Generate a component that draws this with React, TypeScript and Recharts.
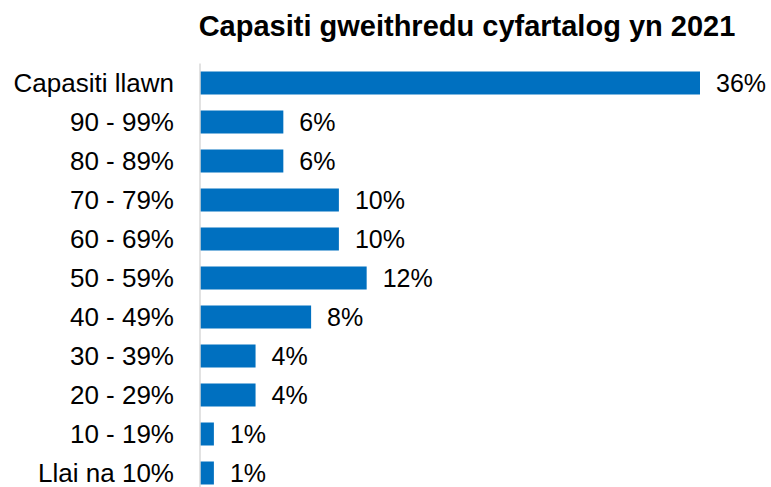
import React from 'react';
import { BarChart, Bar, XAxis, YAxis, LabelList } from 'recharts';

const title = 'Capasiti gweithredu cyfartalog yn 2021';
const categories = ['Capasiti llawn', '90 - 99%', '80 - 89%', '70 - 79%', '60 - 69%', '50 - 59%', '40 - 49%', '30 - 39%', '20 - 29%', '10 - 19%', 'Llai na 10%'];
const values = [36, 6, 6, 10, 10, 12, 8, 4, 4, 1, 1];

const data = categories.map((name, i) => ({ name, value: values[i] }));

const FONT = '"Liberation Sans", Arial, sans-serif';

export default function App() {
  return (
    <div style={{ position: 'absolute', left: 0, top: 0, width: 771, height: 487, overflow: 'hidden', background: '#fff', fontFamily: FONT }}>
      <div style={{ position: 'absolute', left: 167, top: 11.5, width: 600, textAlign: 'center', fontSize: 29, lineHeight: '29px', fontWeight: 'bold', color: '#000', whiteSpace: 'nowrap' }}>
        {title}
      </div>
      <div style={{ position: 'absolute', left: 0, top: 0 }}>
        <BarChart
          layout="vertical"
          width={771}
          height={492.5}
          data={data}
          margin={{ top: 63.5, right: 71, bottom: 0, left: 1 }}
          style={{ fontFamily: FONT }}
        >
          <XAxis type="number" domain={[0, 36]} hide />
          <YAxis
            type="category"
            dataKey="name"
            width={199}
            interval={0}
            axisLine={{ stroke: '#d9d9d9', strokeWidth: 1.5 }}
            tickLine={false}
            tickMargin={20}
            tick={{ fontSize: 26, fill: '#000', fontFamily: FONT }}
          />
          <Bar dataKey="value" fill="#0070C0" barSize={23} isAnimationActive={false}>
            <LabelList
              dataKey="value"
              position="right"
              offset={16}
              formatter={(v: any) => `${v}%`}
              style={{ fontSize: 25, fill: '#000', fontFamily: FONT }}
            />
          </Bar>
        </BarChart>
      </div>
    </div>
  );
}
